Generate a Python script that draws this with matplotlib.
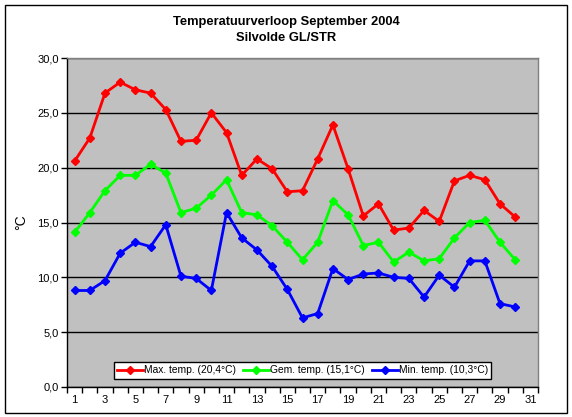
import matplotlib
matplotlib.use("Agg")
import matplotlib.pyplot as plt
from matplotlib.patches import Rectangle
import numpy as np

plt.rcParams['font.family'] = ['Liberation Sans', 'DejaVu Sans']

days = list(range(1, 31))
max_temp = [20.6, 22.7, 26.8, 27.8, 27.1, 26.8, 25.3, 22.4, 22.5, 25.0,
            23.2, 19.3, 20.8, 19.9, 17.8, 17.9, 20.8, 23.9, 19.9, 15.6,
            16.7, 14.3, 14.5, 16.1, 15.1, 18.8, 19.3, 18.9, 16.7, 15.5]
gem_temp = [14.1, 15.9, 17.9, 19.3, 19.3, 20.3, 19.5, 15.9, 16.3, 17.5,
            18.9, 15.9, 15.7, 14.7, 13.2, 11.6, 13.2, 17.0, 15.7, 12.9,
            13.2, 11.4, 12.3, 11.5, 11.7, 13.6, 15.0, 15.2, 13.2, 11.6]
min_temp = [8.8, 8.8, 9.7, 12.2, 13.2, 12.8, 14.8, 10.1, 9.9, 8.8,
            15.9, 13.6, 12.5, 11.0, 8.9, 6.3, 6.7, 10.8, 9.8, 10.3,
            10.4, 10.0, 9.9, 8.2, 10.2, 9.1, 11.5, 11.5, 7.6, 7.3]
series_labels = ["Max. temp. (20,4°C)", "Gem. temp. (15,1°C)", "Min. temp. (10,3°C)"]
series_colors = ["#FF0000", "#00FF00", "#0000FF"]
title_lines = ["Temperatuurverloop September 2004", "Silvolde GL/STR"]
y_ticks = [0, 5, 10, 15, 20, 25, 30]
x_labels = list(range(1, 32, 2))

W, H = 572, 417
fig = plt.figure(figsize=(W / 100, H / 100), dpi=100)
fig.patch.set_facecolor('white')

# outer chart border
fig.add_artist(Rectangle((5 / W, 1 - 413 / H), (567 - 5) / W, (413 - 5) / H,
                         transform=fig.transFigure, fill=False,
                         edgecolor='black', linewidth=1.0))

ax = fig.add_axes([67 / W, 1 - 387 / H, (538 - 67) / W, (387 - 58) / H])
ax.set_facecolor('#C0C0C0')

for vals, lab, col in zip([max_temp, gem_temp, min_temp], series_labels, series_colors):
    ax.plot(days, vals, color=col, linewidth=2, marker='D', markersize=4.2,
            markeredgecolor=col, markerfacecolor=col, label=lab, zorder=3)

ax.set_xlim(0.5, 31.5)
ax.set_ylim(0, 30)
ax.set_yticks(y_ticks)
ax.set_yticklabels([f"{v:.1f}".replace('.', ',') for v in y_ticks], fontsize=8)
ax.yaxis.grid(True, color='black', linewidth=1)
ax.set_axisbelow(True)

ax.set_xticks(x_labels)
ax.set_xticklabels([str(v) for v in x_labels], fontsize=8)
ax.set_xticks(np.arange(0.5, 32, 1), minor=True)
ax.tick_params(axis='x', which='major', length=0, pad=6)
ax.tick_params(axis='x', which='minor', length=4, direction='out', width=1)
ax.tick_params(axis='y', which='major', length=4, direction='out', width=1, pad=2)

for s in ['top', 'right']:
    ax.spines[s].set_color('#808080')
    ax.spines[s].set_linewidth(1)
for s in ['left', 'bottom']:
    ax.spines[s].set_color('black')
    ax.spines[s].set_linewidth(1)

fig.text(21 / W, 1 - 222 / H, "°C", rotation=90, ha='center', va='center',
         fontsize=10)

fig.text(286 / W, 1 - 22 / H, title_lines[0], ha='center', va='center',
         fontsize=9.3, fontweight='bold')
fig.text(286 / W, 1 - 38 / H, title_lines[1], ha='center', va='center',
         fontsize=9.3, fontweight='bold')

leg = ax.legend(loc='lower center', ncol=3, fontsize=7.4, frameon=True,
                fancybox=False, edgecolor='black', framealpha=1,
                bbox_to_anchor=(0.5, 0.018), handlelength=2.5, handletextpad=0.1,
                columnspacing=0.7, borderpad=0.35, borderaxespad=0.2,
                markerscale=0.9)
leg.get_frame().set_linewidth(1)

fig.savefig("out.png", dpi=100)
